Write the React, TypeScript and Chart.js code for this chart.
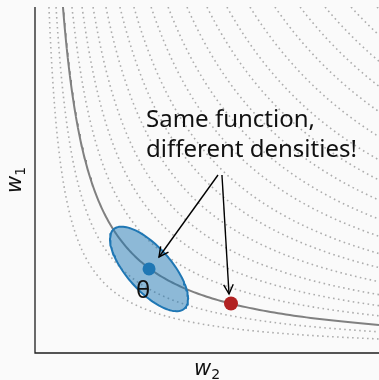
import React, { useEffect, useRef } from "react";
import { Chart, registerables } from "chart.js";

Chart.register(...registerables);

// Axis ranges (data units)
const X_MIN = 0;
const X_MAX = 4;
const Y_MIN = 0;
const Y_MAX = 4;

// Contour levels (w1 * w2 = c)
const dottedLevels = [0.65, 0.98, 1.72, 2.19, 2.7, 3.3, 3.95, 4.6, 5.4, 6.19, 7.07, 8.0, 8.93, 10.0, 11.16, 12.33, 13.49, 14.7, 15.91];
const solidLevel = 1.3;

// Marked points
const bluePoint = { x: 1.326, y: 0.972 };
const redPoint = { x: 2.279, y: 0.572 };

// Density ellipse around the blue point: semi-axes (data units), tilt (deg)
const ellipseAxes = [0.616, 0.256];
const ellipseTiltDeg = -48;

// Annotation text and arrows (data coordinates)
const noteLines = ["Same function,", "different densities!"];
const noteAnchor = { x: 1.291, y: 2.613 };
const noteLineGap = 0.347;
const arrows = [
  { from: { x: 2.128, y: 2.058 }, to: { x: 1.442, y: 1.11 } },
  { from: { x: 2.174, y: 2.058 }, to: { x: 2.256, y: 0.682 } },
];
const thetaLabel = "θ";
const thetaPos = { x: 1.256, y: 0.636 };
const xLabel = { main: "w", sub: "2" };
const yLabel = { main: "w", sub: "1" };

function hyperbola(c: number, n = 160) {
  const x0 = c / Y_MAX;
  const pts: { x: number; y: number }[] = [];
  for (let i = 0; i < n; i++) {
    const x = x0 * Math.pow(X_MAX / x0, i / (n - 1));
    pts.push({ x, y: c / x });
  }
  return pts;
}

function ellipsePoints(n = 120) {
  const [a, b] = ellipseAxes;
  const t = (ellipseTiltDeg * Math.PI) / 180;
  const pts: { x: number; y: number }[] = [];
  for (let i = 0; i <= n; i++) {
    const s = (i / n) * Math.PI * 2;
    const ex = a * Math.cos(s);
    const ey = b * Math.sin(s);
    pts.push({
      x: bluePoint.x + ex * Math.cos(t) - ey * Math.sin(t),
      y: bluePoint.y + ex * Math.sin(t) + ey * Math.cos(t),
    });
  }
  return pts;
}

function drawMath(ctx: CanvasRenderingContext2D, main: string, sub: string) {
  const mainFont = "italic 21px 'DejaVu Sans'";
  const subFont = "14px 'DejaVu Sans'";
  ctx.font = mainFont;
  const wm = ctx.measureText(main).width;
  ctx.font = subFont;
  const ws = ctx.measureText(sub).width;
  const total = wm + ws;
  ctx.textAlign = "left";
  ctx.textBaseline = "alphabetic";
  ctx.font = mainFont;
  ctx.fillText(main, -total / 2, 0);
  ctx.font = subFont;
  ctx.fillText(sub, -total / 2 + wm, 3.5);
}

const annotPlugin = {
  id: "annot",
  afterDraw(chart: any) {
    const ctx: CanvasRenderingContext2D = chart.ctx;
    const xs = chart.scales.x;
    const ys = chart.scales.y;
    const { left, right, top, bottom } = chart.chartArea;
    const px = (v: number) => xs.getPixelForValue(v);
    const py = (v: number) => ys.getPixelForValue(v);
    ctx.save();
    // spines
    ctx.strokeStyle = "#1e1e1e";
    ctx.lineWidth = 1.3;
    ctx.beginPath();
    ctx.moveTo(left, top);
    ctx.lineTo(left, bottom);
    ctx.lineTo(right, bottom);
    ctx.stroke();

    // arrows
    ctx.strokeStyle = "#000";
    ctx.lineWidth = 1.4;
    for (const a of arrows) {
      const x1 = px(a.from.x), y1 = py(a.from.y);
      const x2 = px(a.to.x), y2 = py(a.to.y);
      ctx.beginPath();
      ctx.moveTo(x1, y1);
      ctx.lineTo(x2, y2);
      ctx.stroke();
      const ang = Math.atan2(y2 - y1, x2 - x1);
      const hl = 9.5, hw = 4.8;
      const bx = x2 - hl * Math.cos(ang), by = y2 - hl * Math.sin(ang);
      const nx = -Math.sin(ang), ny = Math.cos(ang);
      ctx.beginPath();
      ctx.moveTo(bx + hw * nx, by + hw * ny);
      ctx.lineTo(x2, y2);
      ctx.lineTo(bx - hw * nx, by - hw * ny);
      ctx.stroke();
    }

    // note text
    ctx.fillStyle = "#111";
    ctx.font = "24px 'Noto Sans'";
    ctx.textAlign = "left";
    ctx.textBaseline = "alphabetic";
    noteLines.forEach((line, i) => {
      ctx.fillText(line, px(noteAnchor.x), py(noteAnchor.y - i * noteLineGap));
    });

    // theta
    ctx.textAlign = "center";
    ctx.fillText(thetaLabel, px(thetaPos.x), py(thetaPos.y));

    // axis labels
    ctx.fillStyle = "#111";
    ctx.save();
    ctx.translate((left + right) / 2, 375);
    drawMath(ctx, xLabel.main, xLabel.sub);
    ctx.restore();
    ctx.save();
    ctx.translate(21, (top + bottom) / 2);
    ctx.rotate(-Math.PI / 2);
    drawMath(ctx, yLabel.main, yLabel.sub);
    ctx.restore();

    ctx.restore();
  },
};

export default function App() {
  const ref = useRef<HTMLCanvasElement | null>(null);
  useEffect(() => {
    document.body.style.margin = "0";
    document.body.style.background = "#fafafa";
    const canvas = ref.current!;
    const datasets: any[] = [];
    datasets.push({
      data: [bluePoint],
      showLine: false,
      pointRadius: 6.5,
      pointBackgroundColor: "#1f77b4",
      pointBorderWidth: 0,
      order: 0,
    });
    datasets.push({
      data: [redPoint],
      showLine: false,
      pointRadius: 7,
      pointBackgroundColor: "#b22222",
      pointBorderWidth: 0,
      order: 0,
    });
    datasets.push({
      data: ellipsePoints(),
      showLine: true,
      pointRadius: 0,
      borderColor: "#1f77b4",
      borderWidth: 2,
      backgroundColor: "rgba(31,119,180,0.5)",
      fill: "shape",
      tension: 0,
      order: 1,
    });
    datasets.push({
      data: hyperbola(solidLevel),
      showLine: true,
      pointRadius: 0,
      borderColor: "#808080",
      borderWidth: 2,
      fill: false,
      order: 2,
    });
    dottedLevels.forEach((c) => {
      datasets.push({
        data: hyperbola(c),
        showLine: true,
        pointRadius: 0,
        borderColor: "#adadad",
        borderWidth: 1.6,
        borderDash: [1.6, 3.4],
        fill: false,
        order: 3,
      });
    });
    const chart = new Chart(canvas, {
      type: "scatter",
      data: { datasets },
      options: {
        responsive: false,
        animation: false,
        events: [],
        layout: { autoPadding: false, padding: { left: 35, top: 7, right: 0, bottom: 27 } },
        plugins: { legend: { display: false }, tooltip: { enabled: false } },
        scales: {
          x: { type: "linear", min: X_MIN, max: X_MAX, display: false },
          y: { type: "linear", min: Y_MIN, max: Y_MAX, display: false },
        },
      },
      plugins: [annotPlugin],
    } as any);
    return () => chart.destroy();
  }, []);
  return (
    <div style={{ width: 379, height: 380 }}>
      <canvas ref={ref} width={379} height={380} style={{ display: "block" }} />
    </div>
  );
}
